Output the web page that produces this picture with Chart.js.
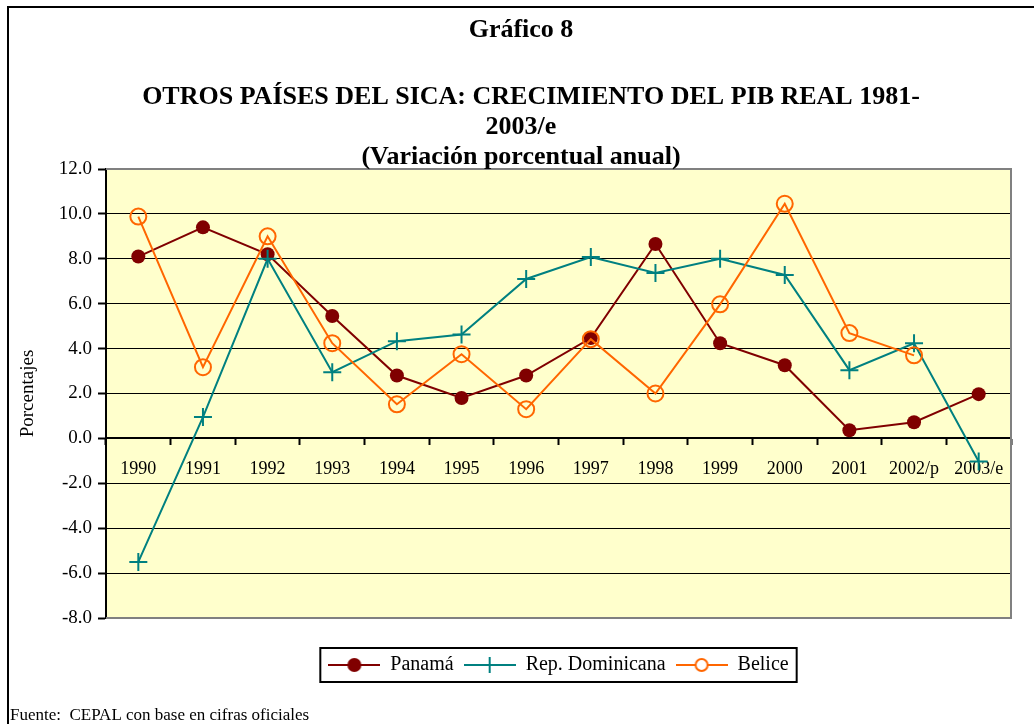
<!DOCTYPE html>
<html>
<head>
<meta charset="utf-8">
<script src="https://cdn.jsdelivr.net/npm/chart.js@4"></script>
<style>
    html, body { margin: 0; padding: 0; background: #fff; }
    canvas { display: block; }
</style>
</head>
<body>
<canvas id="myChart" width="1034" height="724"></canvas>
<script>
const years = ['1990', '1991', '1992', '1993', '1994', '1995', '1996', '1997', '1998', '1999', '2000', '2001', '2002/p', '2003/e'];
const panama = [8.1, 9.4, 8.2, 5.45, 2.8, 1.8, 2.8, 4.47, 8.66, 4.24, 3.26, 0.36, 0.72, 1.97];
const repDominicana = [-5.5, 0.95, 8.0, 2.95, 4.33, 4.63, 7.1, 8.08, 7.37, 8.0, 7.28, 3.04, 4.24, -1.03];
const belice = [9.88, 3.17, 9.0, 4.24, 1.52, 3.75, 1.3, 4.42, 2.0, 5.97, 10.45, 4.69, 3.7, null];
const yTicks = [-8, -6, -4, -2, 0, 2, 4, 6, 8, 10, 12];

const serif = "'Liberation Serif', 'Times New Roman', serif";
Chart.defaults.font.family = serif;
Chart.defaults.color = '#000';

// small canvas with line + marker, used as the legend symbol
function legendSymbol(color, style) {
    const c = document.createElement('canvas');
    c.width = 52;
    c.height = 18;
    const g = c.getContext('2d');
    g.strokeStyle = color;
    g.lineWidth = 2;
    g.beginPath();
    g.moveTo(0, 9);
    g.lineTo(52, 9);
    g.stroke();
    if (style === 'dot') {
        g.fillStyle = color;
        g.beginPath();
        g.arc(26, 9, 7, 0, Math.PI * 2);
        g.fill();
    } else if (style === 'cross') {
        g.beginPath();
        g.moveTo(26, 1);
        g.lineTo(26, 17);
        g.stroke();
    } else {
        g.fillStyle = '#fff';
        g.beginPath();
        g.arc(26, 9, 6, 0, Math.PI * 2);
        g.fill();
        g.stroke();
    }
    return c;
}

const frame = {
    id: 'frame',
    beforeDraw(chart) {
        const ctx = chart.ctx;
        const a = chart.chartArea;
        ctx.save();
        ctx.fillStyle = '#fff';
        ctx.fillRect(0, 0, chart.width, chart.height);
        ctx.fillStyle = '#FFFFCC';
        ctx.fillRect(a.left, a.top, a.right - a.left, a.bottom - a.top);
        ctx.restore();
    },
    afterDraw(chart) {
        const ctx = chart.ctx;
        const a = chart.chartArea;
        ctx.save();
        // grey frame of the plot area
        ctx.strokeStyle = '#808080';
        ctx.lineWidth = 2;
        ctx.beginPath();
        ctx.moveTo(a.left, a.top);
        ctx.lineTo(a.right, a.top);
        ctx.lineTo(a.right, a.bottom);
        ctx.lineTo(a.left, a.bottom);
        ctx.stroke();

        // outer frame
        ctx.strokeStyle = '#000';
        ctx.lineWidth = 2;
        ctx.beginPath();
        ctx.moveTo(8, 724);
        ctx.lineTo(8, 7);
        ctx.lineTo(1034, 7);
        ctx.stroke();

        // titles
        ctx.fillStyle = '#000';
        ctx.textAlign = 'center';
        ctx.textBaseline = 'middle';
        ctx.font = 'bold 26px ' + serif;
        ctx.fillText('Gráfico 8', 521, 30);
        ctx.fillText('OTROS PAÍSES DEL SICA: CRECIMIENTO DEL PIB REAL 1981-', 531, 97);
        ctx.fillText('2003/e', 521, 127);
        ctx.fillText('(Variación porcentual anual)', 521, 157);

        // footnote
        ctx.textAlign = 'left';
        ctx.font = '17px ' + serif;
        ctx.fillText('Fuente:  CEPAL con base en cifras oficiales', 10, 716);

        // legend box
        const hb = chart.legend.legendHitBoxes;
        if (hb && hb.length) {
            const last = hb[hb.length - 1];
            const left = hb[0].left - 8;
            const right = last.left + last.width + 8;
            const top = hb[0].top - 7;
            const bottom = hb[0].top + hb[0].height + 7;
            ctx.strokeStyle = '#000';
            ctx.lineWidth = 2;
            ctx.strokeRect(left, top, right - left, bottom - top);
        }
        ctx.restore();
    }
};

const ctx = document.getElementById('myChart').getContext('2d');
new Chart(ctx, {
    type: 'line',
    data: {
        labels: years,
        datasets: [{
            label: 'Panamá',
            data: panama,
            borderColor: '#800000',
            backgroundColor: '#800000',
            borderWidth: 2,
            pointStyle: 'circle',
            pointRadius: 7,
            pointBorderWidth: 0,
            order: 2,
            symbol: legendSymbol('#800000', 'dot')
        }, {
            label: 'Rep. Dominicana',
            data: repDominicana,
            borderColor: '#008080',
            backgroundColor: '#008080',
            borderWidth: 2,
            pointStyle: 'cross',
            pointRadius: 9,
            pointBorderWidth: 2,
            order: 1,
            symbol: legendSymbol('#008080', 'cross')
        }, {
            label: 'Belice',
            data: belice,
            borderColor: '#FF6600',
            backgroundColor: 'rgba(0,0,0,0)',
            borderWidth: 2,
            pointStyle: 'circle',
            pointRadius: 8,
            pointBorderWidth: 2,
            order: 0,
            symbol: legendSymbol('#FF6600', 'ring')
        }]
    },
    options: {
        responsive: false,
        animation: false,
        tension: 0,
        layout: {
            padding: { top: 169, left: 8, right: 23, bottom: 39 }
        },
        scales: {
            x: {
                type: 'category',
                position: { y: 0 },
                offset: true,
                grid: {
                    display: true,
                    drawOnChartArea: false,
                    drawTicks: true,
                    tickLength: 6,
                    tickWidth: 2,
                    tickColor: '#000',
                    offset: true
                },
                border: { display: true, color: '#000', width: 2 },
                ticks: {
                    autoSkip: false,
                    maxRotation: 0,
                    padding: 14,
                    font: { size: 18 }
                }
            },
            y: {
                min: -8,
                max: 12,
                afterFit(scale) { scale.width = 98; },
                afterBuildTicks(scale) {
                    scale.ticks = yTicks.map(v => ({ value: v }));
                },
                grid: {
                    color: c => (c.tick && (c.tick.value === 12 || c.tick.value === -8)) ? '#808080' : '#000',
                    lineWidth: 1,
                    tickLength: 8,
                    tickWidth: 2,
                    tickColor: '#000'
                },
                border: { display: true, color: '#000', width: 2 },
                ticks: {
                    padding: 6,
                    font: { size: 19 },
                    callback: v => Number(v).toFixed(1)
                },
                title: {
                    display: true,
                    text: 'Porcentajes',
                    font: { size: 19 },
                    padding: { top: 9, bottom: 0 }
                }
            }
        },
        plugins: {
            legend: {
                position: 'bottom',
                fullSize: false,
                title: { display: true, text: '', font: { size: 15, lineHeight: 1 }, padding: 6 },
                labels: {
                    usePointStyle: true,
                    pointStyleWidth: 52,
                    padding: 10,
                    color: '#000',
                    font: { size: 20 },
                    generateLabels(chart) {
                        return chart.data.datasets.map((ds, i) => ({
                            text: ds.label,
                            pointStyle: ds.symbol,
                            fillStyle: ds.borderColor,
                            strokeStyle: ds.borderColor,
                            lineWidth: 0,
                            fontColor: '#000',
                            hidden: false,
                            datasetIndex: i
                        }));
                    }
                }
            },
            tooltip: { enabled: false }
        }
    },
    plugins: [frame]
});
</script>
</body>
</html>
